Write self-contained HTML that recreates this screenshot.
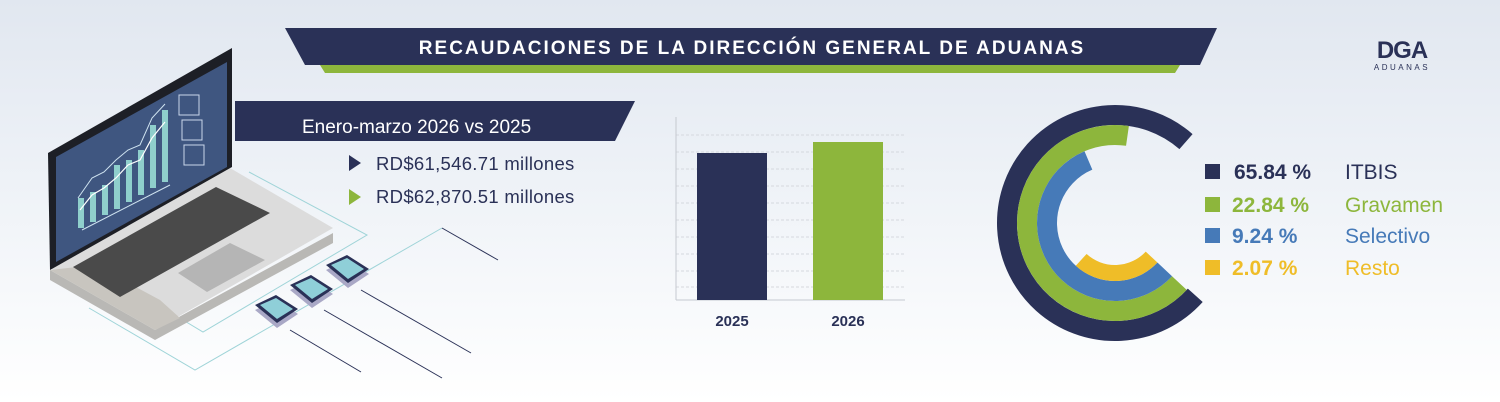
<!DOCTYPE html>
<html><head><meta charset="utf-8"><style>
html,body{margin:0;padding:0}
body{width:1500px;height:402px;overflow:hidden;background:linear-gradient(180deg,#e1e7f0 0%,#eef2f7 45%,#ffffff 100%);font-family:"Liberation Sans",sans-serif;position:relative}
</style></head><body>
<svg width="1500" height="402" style="position:absolute;left:0;top:0" xmlns="http://www.w3.org/2000/svg">
<!-- title banner -->
<polygon points="320,65 1180,65 1175,73 325,73" fill="#8db63c"/>
<polygon points="285,28 1217,28 1200,65 305,65" fill="#2a3157"/>
<text x="752" y="54" text-anchor="middle" fill="#fff" font-size="19" font-weight="bold" letter-spacing="2">RECAUDACIONES DE LA DIRECCIÓN GENERAL DE ADUANAS</text>
<!-- logo -->
<text x="1402" y="58" text-anchor="middle" fill="#2a3157" font-size="24" font-weight="bold" letter-spacing="-1">DGA</text>
<text x="1402" y="70" text-anchor="middle" fill="#2a3157" font-size="8" letter-spacing="2.5">ADUANAS</text>
<!-- subtitle banner -->
<polygon points="235,101 635,101 615,141 235,141" fill="#2a3157"/>
<text x="302" y="133" fill="#fff" font-size="19">Enero-marzo 2026 vs  2025</text>
<polygon points="349,155 361,163 349,171" fill="#2a3157"/>
<text x="376" y="170" fill="#2a3157" font-size="18.5" letter-spacing="0.3">RD$61,546.71 millones</text>
<polygon points="349,189 361,197 349,205" fill="#8db63c"/>
<text x="376" y="203" fill="#2a3157" font-size="18.5" letter-spacing="0.3">RD$62,870.51 millones</text>
<!-- circuit lines -->
<g fill="none" stroke="#9fd4d8" stroke-width="1">
<polyline points="249,172 367,235 203,332 183,320"/>
<polyline points="89,308 195,370 442,228"/>
</g>
<g stroke="#2a3157" stroke-width="1">
<line x1="442" y1="228" x2="498" y2="260"/>
<line x1="361" y1="290" x2="471" y2="353"/>
<line x1="324" y1="310" x2="442" y2="378"/>
<line x1="290" y1="330" x2="361" y2="372"/>
</g>
<!-- laptop -->
<g>
<polygon points="50,270 155,330 333,233 333,243 155,340 50,280" fill="#b9b8b5"/>
<polygon points="50,268 230,168 333,228 155,330" fill="#dcdcdc"/>
<polygon points="50,270 155,330 180,318 160,300 95,265" fill="#c8c5bf"/>
<polygon points="73,267 216,187 270,213 120,297" fill="#4a4a4a"/>
<polygon points="178,273 230,243 265,260 207,292" fill="#b5b5b5"/>
<polygon points="48,153 232,48 232,167 50,270" fill="#1d1f26"/>
<polygon points="56,157 227,62 227,167 56,262" fill="#3f5680"/>
<g fill="#8fcfcc">
<rect x="78" y="198" width="6" height="30"/><rect x="90" y="192" width="6" height="30"/><rect x="102" y="185" width="6" height="30"/><rect x="114" y="165" width="6" height="44"/><rect x="126" y="160" width="6" height="42"/><rect x="138" y="150" width="6" height="45"/><rect x="150" y="125" width="6" height="63"/><rect x="162" y="110" width="6" height="72"/>
</g>
<polyline points="80,210 92,195 104,188 116,178 128,165 140,160 152,138 165,122" fill="none" stroke="#fff" stroke-width="1.2"/>
<polyline points="78,198 92,178 104,172 116,160 128,150 140,145 152,118 165,104" fill="none" stroke="#cfe3f0" stroke-width="1"/>
<line x1="82" y1="230" x2="170" y2="185" stroke="#cfe3f0" stroke-width="1"/>
<rect x="179" y="95" width="20" height="20" fill="none" stroke="#c9d6ea" stroke-width="1"/>
<rect x="182" y="120" width="20" height="20" fill="none" stroke="#c9d6ea" stroke-width="1"/>
<rect x="184" y="145" width="20" height="20" fill="none" stroke="#c9d6ea" stroke-width="1"/>
</g>
<!-- chips -->
<g>
<polygon points="326,270 347,260 369,274 348,288" fill="#a9a8c6"/>
<polygon points="326,265 347,255 369,269 348,283" fill="#2a3157"/><polygon points="331,265 347,258 364,269 348,279" fill="#8fcfd8"/>
<polygon points="290,290 311,280 333,294 312,308" fill="#a9a8c6"/>
<polygon points="290,285 311,275 333,289 312,303" fill="#2a3157"/><polygon points="295,285 311,278 328,289 312,299" fill="#8fcfd8"/>
<polygon points="255,310 276,300 298,314 277,328" fill="#a9a8c6"/>
<polygon points="255,305 276,295 298,309 277,323" fill="#2a3157"/><polygon points="260,305 276,298 293,309 277,319" fill="#8fcfd8"/>
</g>
<!-- bar chart -->
<g stroke="#d5d8de" stroke-width="1" stroke-dasharray="3,2">
<line x1="676" y1="135" x2="905" y2="135"/><line x1="676" y1="152" x2="905" y2="152"/><line x1="676" y1="169" x2="905" y2="169"/><line x1="676" y1="186" x2="905" y2="186"/><line x1="676" y1="203" x2="905" y2="203"/><line x1="676" y1="220" x2="905" y2="220"/><line x1="676" y1="237" x2="905" y2="237"/><line x1="676" y1="254" x2="905" y2="254"/><line x1="676" y1="271" x2="905" y2="271"/><line x1="676" y1="287" x2="905" y2="287"/>
</g>
<line x1="676" y1="117" x2="676" y2="300" stroke="#c5c9d0"/>
<line x1="676" y1="300" x2="905" y2="300" stroke="#c5c9d0"/>
<rect x="697" y="153" width="70" height="147" fill="#2a3157"/>
<rect x="813" y="142" width="70" height="158" fill="#8db63c"/>
<text x="732" y="326" text-anchor="middle" fill="#2a3157" font-size="15" font-weight="bold">2025</text>
<text x="848" y="326" text-anchor="middle" fill="#2a3157" font-size="15" font-weight="bold">2026</text>
<!-- rings -->
<g fill="none" transform="translate(1115,223)">
<circle r="108" stroke="#2a3157" stroke-width="20" stroke-dasharray="507 700" transform="rotate(42)"/>
<circle r="88" stroke="#8db63c" stroke-width="20" stroke-dasharray="361 600" transform="rotate(43)"/>
<circle r="68" stroke="#467ab8" stroke-width="20" stroke-dasharray="242 500" transform="rotate(43)"/>
<circle r="50" stroke="#efbd28" stroke-width="16" stroke-dasharray="78 400" transform="rotate(43)"/>
</g>
<!-- legend -->
<rect x="1205" y="164" width="15" height="15" fill="#2a3157"/>
<text x="1234" y="179" fill="#2a3157" font-size="21" font-weight="bold">65.84 %</text>
<text x="1345" y="179" fill="#2a3157" font-size="21">ITBIS</text>
<rect x="1205" y="197" width="15" height="15" fill="#8db63c"/>
<text x="1232" y="212" fill="#8db63c" font-size="21" font-weight="bold">22.84 %</text>
<text x="1345" y="212" fill="#8db63c" font-size="21">Gravamen</text>
<rect x="1205" y="228" width="15" height="15" fill="#467ab8"/>
<text x="1232" y="243" fill="#467ab8" font-size="21" font-weight="bold">9.24 %</text>
<text x="1345" y="243" fill="#467ab8" font-size="21">Selectivo</text>
<rect x="1205" y="260" width="15" height="15" fill="#efbd28"/>
<text x="1232" y="275" fill="#efbd28" font-size="21" font-weight="bold">2.07 %</text>
<text x="1345" y="275" fill="#efbd28" font-size="21">Resto</text>
</svg>
</body></html>
